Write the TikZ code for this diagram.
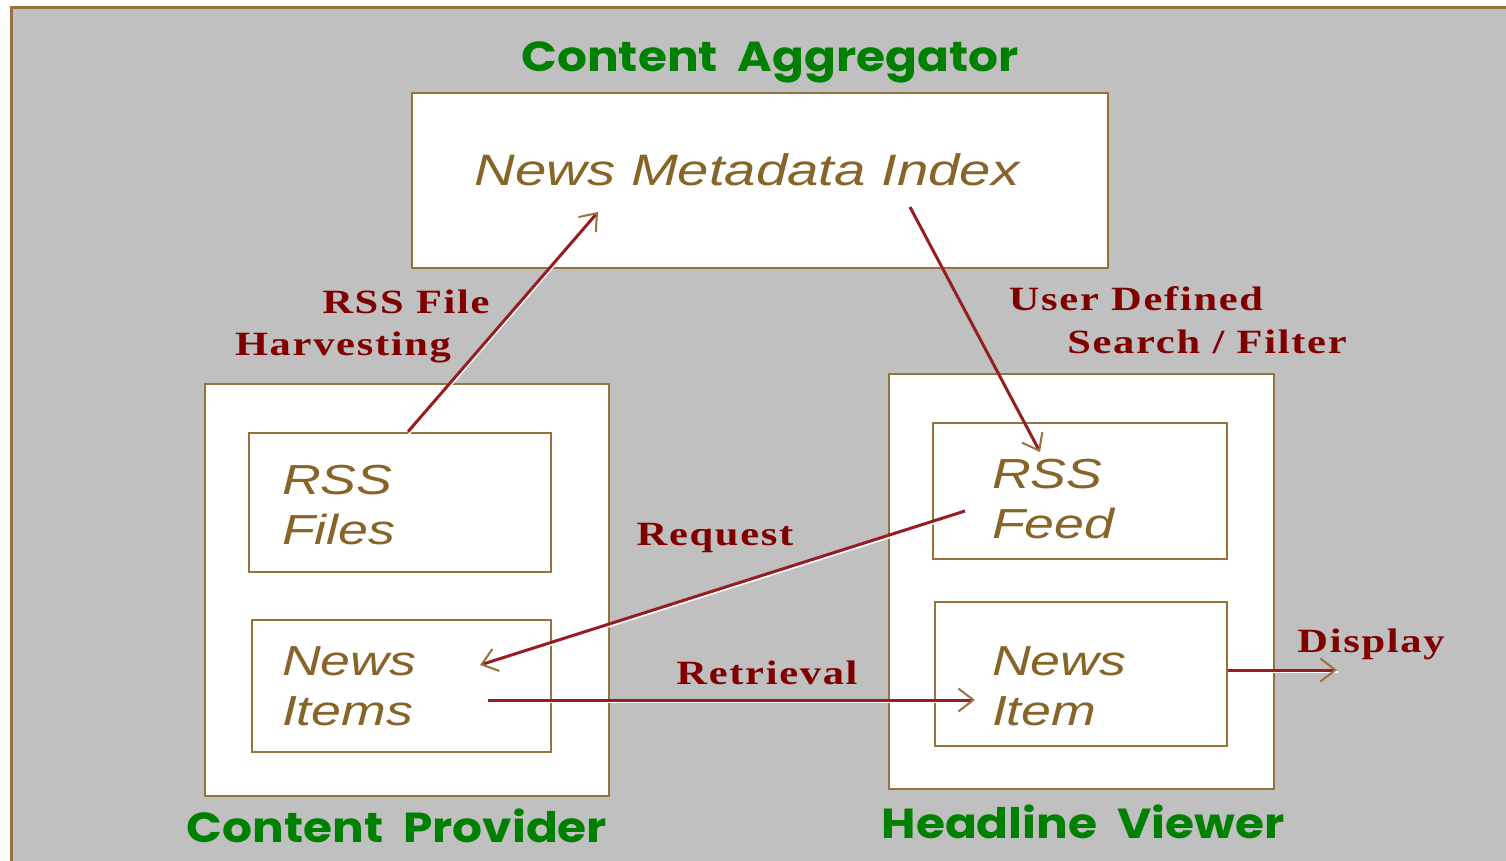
\documentclass[tikz,border=0pt]{standalone}
\usepackage{fontspec}
\usetikzlibrary{arrows.meta}

\newfontfamily\itemfont[FakeStretch=1.28]{Liberation Sans}
\newfontfamily\rolefont[FakeStretch=1.12]{Poppins}
\newfontfamily\flowfont[FakeStretch=1.25,LetterSpace=5]{Liberation Serif}

\definecolor{panelgray}{RGB}{192,192,192}
\definecolor{boxbrown}{RGB}{150,115,60}
\definecolor{textbrown}{RGB}{135,100,40}
\definecolor{flowred}{RGB}{128,0,0}
\definecolor{linered}{RGB}{150,30,35}
\definecolor{rolegreen}{RGB}{0,128,0}

\tikzset{every picture/.style={line width=0.75pt}}

\begin{document}
\begin{tikzpicture}[x=0.5pt,y=0.5pt,yscale=-1,xscale=1,
  box/.style={draw=boxbrown, fill=white, line width=1.3pt, inner sep=0pt},
  itembox/.style={box, font=\itemfont\itshape\fontsize{21}{25}\selectfont, text=textbrown, align=left},
  role/.style={font=\rolefont\bfseries\fontsize{21}{25}\selectfont, text=rolegreen, inner sep=0pt},
  flow/.style={font=\flowfont\bfseries\fontsize{17}{20}\selectfont, text=flowred, inner sep=0pt},
  conn/.style={draw=linered, line width=1.5pt,
    -{Straight Barb[length=7.5pt,width=11.5pt,color=boxbrown,line width=1pt]},
    preaction={draw=white, -, line width=0.9pt, transform canvas={xshift=0.4pt,yshift=-1.1pt}}}]
\useasboundingbox (0,0) rectangle (1506,861);

%Shape: Rectangle (panel)
\draw [draw=boxbrown, line width=1.5pt, fill=panelgray] (11,8) rectangle (1530,880);

%Shape: Rectangle (aggregator)
\node [box, minimum width=348pt, minimum height=87.5pt] (agg) at (760,180.5) {};
% Text Node
\node [font=\itemfont\itshape\fontsize{22}{26}\selectfont, text=textbrown, inner sep=0pt] (index) at (747,170) {News Metadata Index};

%Shape: Rectangle (provider)
\node [box, minimum width=202pt, minimum height=206pt] (prov) at (407,590) {};
\node [itembox, inner xsep=16.5pt, text width=118pt, minimum height=69.5pt] (files) at (400,502.5) {\rule{0pt}{17pt}RSS\\Files};
\node [itembox, inner xsep=15pt, text width=119.5pt, minimum height=66pt] (items) at (401.5,686) {News\\Items};

%Shape: Rectangle (viewer)
\node [box, minimum width=192.5pt, minimum height=207.5pt] (view) at (1081.5,581.5) {};
\node [itembox, inner xsep=29.5pt, text width=88pt, minimum height=68pt] (feed) at (1080,491) {\rule{0pt}{23pt}RSS\\Feed};
\node [itembox, inner xsep=28.5pt, text width=89pt, minimum height=72pt] (item) at (1081,674) {\rule{0pt}{27pt}News\\Item};

% Text Node
\node [role] (aggname) at (770,62) {Content\ \ Aggregator};
% Text Node
\node [role] (provname) at (397,826) {Content\ \ Provider};
% Text Node
\node [role] (viewname) at (1083,822) {Headline\ \ Viewer};

% Text Node
\node [flow] (harv1) at (406,302) {RSS File};
% Text Node
\node [flow] (harv2) at (343,347) {Harvesting};
% Text Node
\node [flow] (filt1) at (1136,299) {User Defined};
% Text Node
\node [flow] (filt2) at (1207,342) {Search / Filter};
% Text Node
\node [flow] (req) at (715,538) {Request};
% Text Node
\node [flow] (retr) at (767,673) {Retrieval};
% Text Node
\node [flow] (disp) at (1371,644) {Display};

\coordinate (harvtip) at (598,212);
\coordinate (filtfrom) at (910,207);
\coordinate (filttip) at (1040,452);
\coordinate (reqfrom) at (965,511);
\coordinate (reqtip) at (480,665);
\coordinate (retrfrom) at (488,700);
\coordinate (retrtip) at (975,700);
\coordinate (disptip) at (1337,670);

%Straight Lines
\draw [conn] ([xshift=4pt]files.north) -- (harvtip);
\draw [conn] (filtfrom) -- (filttip);
\draw [conn] (reqfrom) -- (reqtip);
\draw [conn] (retrfrom) -- (retrtip);
\draw [conn] ([yshift=-2pt]item.east) -- (disptip);

\end{tikzpicture}
\end{document}
